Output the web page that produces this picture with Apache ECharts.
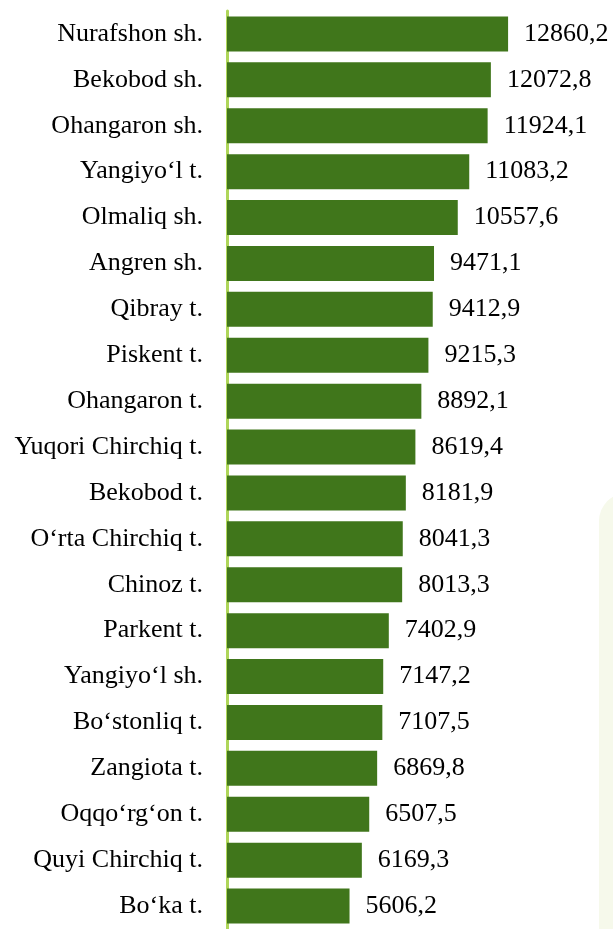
<!DOCTYPE html>
<html>
<head>
<meta charset="utf-8">
<script src="https://cdn.jsdelivr.net/npm/echarts@6/dist/echarts.min.js"></script>
<style>
html, body { margin: 0; padding: 0; background: #fff; }
#chart { width: 613px; height: 929px; }
</style>
</head>
<body>
<div id="chart"></div>
<script>
const districts = [
    'Nurafshon sh.', 'Bekobod sh.', 'Ohangaron sh.', 'Yangiyo‘l t.', 'Olmaliq sh.',
    'Angren sh.', 'Qibray t.', 'Piskent t.', 'Ohangaron t.', 'Yuqori Chirchiq t.',
    'Bekobod t.', 'O‘rta Chirchiq t.', 'Chinoz t.', 'Parkent t.', 'Yangiyo‘l sh.',
    'Bo‘stonliq t.', 'Zangiota t.', 'Oqqo‘rg‘on t.', 'Quyi Chirchiq t.', 'Bo‘ka t.'
];
const values = [
    12860.2, 12072.8, 11924.1, 11083.2, 10557.6,
    9471.1, 9412.9, 9215.3, 8892.1, 8619.4,
    8181.9, 8041.3, 8013.3, 7402.9, 7147.2,
    7107.5, 6869.8, 6507.5, 6169.3, 5606.2
];

const chart = echarts.init(document.getElementById('chart'));

const option = {
    animation: false,
    textStyle: { fontFamily: '"Liberation Serif", "DejaVu Serif", serif' },
    graphic: [
        {
            type: 'rect',
            z: -10,
            silent: true,
            shape: { x: 599, y: 493, width: 40, height: 460, r: [28, 0, 0, 0] },
            style: { fill: '#f6f9eb' }
        }
    ],
    grid: { left: 227, right: 80, top: 11, bottom: -6 },
    xAxis: {
        type: 'value',
        min: 0,
        max: 14000,
        show: false
    },
    yAxis: {
        type: 'category',
        inverse: true,
        data: districts,
        axisLine: { lineStyle: { color: '#afd65a', width: 3 } },
        axisTick: { show: false },
        axisLabel: { color: '#000', fontSize: 26, margin: 24, padding: [10, 0, 0, 0] }
    },
    series: [
        {
            type: 'bar',
            data: values,
            barWidth: 35,
            itemStyle: { color: '#40761b' },
            label: {
                show: true,
                position: 'right',
                distance: 16,
                color: '#000',
                fontSize: 26,
                padding: [10, 0, 0, 0],
                formatter: p => p.value.toFixed(1).replace('.', ',')
            }
        }
    ]
};

chart.setOption(option);
</script>
</body>
</html>
